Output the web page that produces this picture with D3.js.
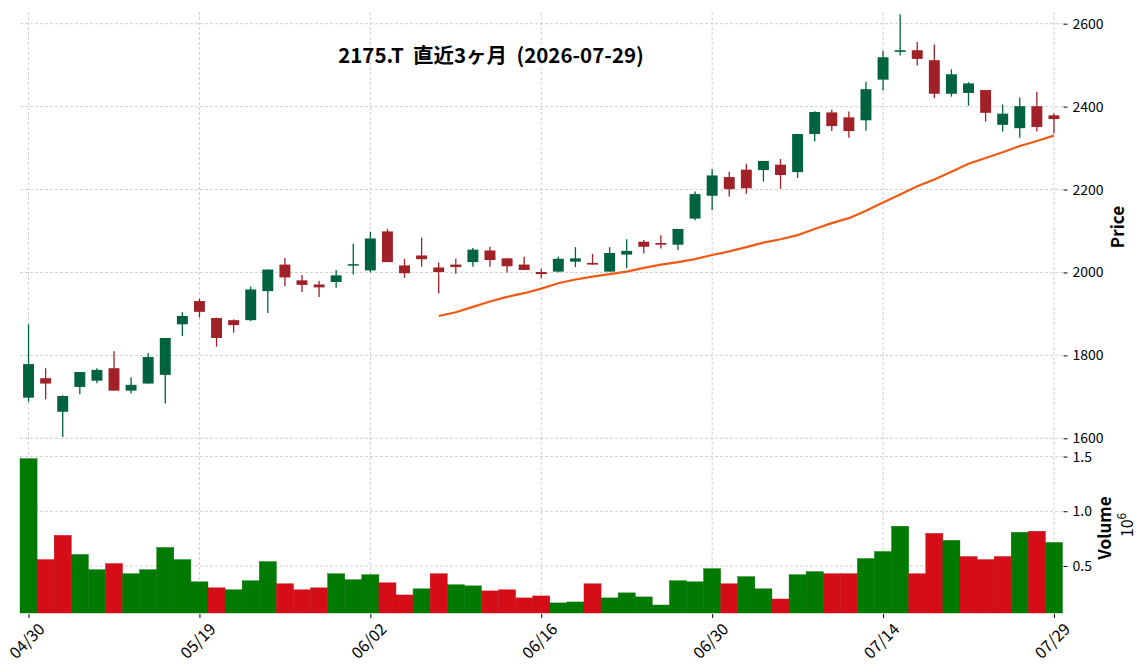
<!DOCTYPE html>
<head>
  <meta charset="utf-8">
  <script src="https://d3js.org/d3.v7.min.js"></script>
  <style>
    body { margin: 0; background: #fff; }
    text { font-family: "Noto Sans CJK JP", "Noto Sans", sans-serif; }
    .grid line { stroke: #c4c4c4; stroke-width: 0.8; stroke-dasharray: 3,2; }
    .axis text { font-size: 14px; fill: #000; }
    .axis line { stroke: #000; }
    .xaxis text { font-size: 16px; }
  </style>
</head>
<body>
<script>
// 2175.T  daily bars, 2026-04-30 .. 2026-07-29
var dates = ["04/30","05/01","05/07","05/08","05/11","05/12","05/13","05/14","05/15","05/18",
  "05/19","05/20","05/21","05/22","05/25","05/26","05/27","05/28","05/29","06/01",
  "06/02","06/03","06/04","06/05","06/08","06/09","06/10","06/11","06/12","06/15",
  "06/16","06/17","06/18","06/19","06/22","06/23","06/24","06/25","06/26","06/29",
  "06/30","07/01","07/02","07/03","07/06","07/07","07/08","07/09","07/10","07/13",
  "07/14","07/15","07/16","07/17","07/21","07/22","07/23","07/24","07/27","07/28",
  "07/29"];
var open = [1698,1745,1664,1724,1739,1769,1715,1732,1753,1875,
  1931,1890,1885,1885,1955,2019,1981,1971,1977,2018,
  2005,2099,2017,2041,2012,2019,2025,2053,2034,2019,
  2001,2002,2026,2023,2002,2043,2074,2071,2067,2130,
  2185,2230,2248,2247,2260,2242,2334,2386,2374,2367,
  2465,2532,2536,2512,2431,2433,2440,2356,2348,2401,
  2379];
var high = [1875,1769,1704,1760,1769,1810,1747,1805,1842,1904,
  1937,1891,1887,1966,2007,2035,1994,1980,2006,2069,
  2098,2105,2033,2084,2024,2033,2059,2062,2034,2038,
  2009,2038,2061,2045,2061,2080,2078,2090,2105,2195,
  2249,2243,2262,2269,2274,2334,2389,2393,2388,2460,
  2535,2623,2556,2550,2490,2459,2440,2405,2422,2436,
  2384];
var low = [1688,1694,1603,1706,1733,1715,1708,1732,1684,1847,
  1892,1821,1855,1883,1902,1967,1953,1941,1963,1995,
  2000,2025,1987,2014,1949,1997,2014,2014,2000,2006,
  1986,2000,2013,2019,2002,2010,2046,2058,2054,2126,
  2150,2183,2190,2219,2202,2228,2316,2341,2325,2342,
  2439,2523,2499,2420,2424,2402,2364,2340,2325,2340,
  2335];
var close = [1779,1732,1702,1760,1765,1715,1729,1796,1842,1895,
  1905,1842,1873,1959,2007,1988,1970,1964,1993,2020,
  2082,2025,1998,2032,2001,2013,2055,2030,2015,2006,
  1996,2033,2034,2019,2047,2052,2062,2067,2105,2189,
  2234,2201,2203,2269,2235,2334,2387,2353,2341,2442,
  2519,2536,2515,2431,2478,2456,2385,2383,2401,2351,
  2370];
var volume = [1481000,558000,780000,605000,466000,522000,429000,466000,669000,558000,
  355000,300000,282000,365000,540000,337000,282000,300000,429000,374000,
  420000,346000,235000,291000,429000,328000,318000,272000,282000,208000,
  226000,162000,171000,337000,208000,254000,217000,143000,365000,355000,
  475000,337000,402000,291000,198000,420000,448000,429000,429000,568000,
  632000,863000,429000,798000,734000,586000,558000,586000,808000,817000,
  715000];
// 25-day moving average, starts at bar 24 (06/08)
var maStart = 24;
var ma25 = [1895,1904,1917,1930,1941,1950,1961,1974,1983,1990,
  1996,2002,2011,2019,2025,2032,2042,2051,2061,2072,
  2080,2090,2105,2119,2131,2149,2169,2188,2208,2224,
  2243,2262,2276,2290,2305,2317,2330];
var priceTicks = [1600,1800,2000,2200,2400,2600];
var volTicks = [0.5e6,1.0e6,1.5e6];
var dateTicks = [0,10,20,30,40,50,60];

var w = 1148, h = 670;
var left = 20, right = 1062.5;
var pTop = 12, pBot = 441;
var vTop = 443, vBot = 613;

var upC = "#006340", downC = "#a02128";
var volUp = "#007a00", volDown = "#d50d18";

var n = dates.length;
var xScale = d3.scaleLinear().domain([-0.5, n - 0.5]).range([left, right]);
var step = xScale(1) - xScale(0);
var yScale = d3.scaleLinear().domain([1593.5, 2628.2]).range([pBot, pTop]);
var vScale = d3.scaleLinear().domain([0.07e6, 1.624e6]).range([vBot, vTop]);

var svg = d3.select("body").append("svg")
  .attr("width", w).attr("height", h);

// grid
var grid = svg.append("g").attr("class", "grid");
grid.selectAll(".gx").data(dateTicks).enter().append("line")
  .attr("x1", function(d) { return xScale(d); })
  .attr("x2", function(d) { return xScale(d); })
  .attr("y1", pTop).attr("y2", vBot);
grid.selectAll(".gp").data(priceTicks).enter().append("line")
  .attr("x1", left).attr("x2", right)
  .attr("y1", function(d) { return yScale(d); })
  .attr("y2", function(d) { return yScale(d); });
grid.selectAll(".gv").data(volTicks).enter().append("line")
  .attr("x1", left).attr("x2", right)
  .attr("y1", function(d) { return vScale(d); })
  .attr("y2", function(d) { return vScale(d); });

// volume bars, coloured by close vs previous close
svg.append("g").selectAll("rect").data(volume).enter().append("rect")
  .attr("x", function(d, i) { return xScale(i) - step / 2; })
  .attr("width", step)
  .attr("y", function(d) { return vScale(d); })
  .attr("height", function(d) { return vBot - vScale(d); })
  .attr("fill", function(d, i) { return (i == 0 || close[i] >= close[i - 1]) ? volUp : volDown; })
  .attr("stroke", function(d, i) { return (i == 0 || close[i] >= close[i - 1]) ? "#006e00" : "#c00c16"; })
  .attr("stroke-width", 0.4);

// candles
var bodyW = step * 0.64;
var candles = svg.append("g").selectAll("g").data(dates).enter().append("g");
candles.append("line")
  .attr("x1", function(d, i) { return xScale(i); })
  .attr("x2", function(d, i) { return xScale(i); })
  .attr("y1", function(d, i) { return yScale(high[i]); })
  .attr("y2", function(d, i) { return yScale(low[i]); })
  .attr("stroke", function(d, i) { return close[i] >= open[i] ? upC : downC; })
  .attr("stroke-width", 1.3);
candles.append("rect")
  .attr("x", function(d, i) { return xScale(i) - bodyW / 2; })
  .attr("width", bodyW)
  .attr("y", function(d, i) { return yScale(Math.max(open[i], close[i])); })
  .attr("height", function(d, i) { return Math.max(1.5, Math.abs(yScale(open[i]) - yScale(close[i]))); })
  .attr("fill", function(d, i) { return close[i] >= open[i] ? upC : downC; });

// moving average
var line = d3.line()
  .x(function(d, i) { return xScale(i + maStart); })
  .y(function(d) { return yScale(d); });
svg.append("path").datum(ma25)
  .attr("d", line)
  .attr("fill", "none")
  .attr("stroke", "#f05a14")
  .attr("stroke-width", 2.2);

// axes
var pAxis = d3.axisRight(yScale).tickValues(priceTicks).tickSize(4).tickPadding(5)
  .tickFormat(d3.format("d"));
svg.append("g").attr("class", "axis")
  .attr("transform", "translate(" + (right + 1) + ",0)")
  .call(pAxis).call(function(g) { g.select(".domain").remove(); });

var vAxis = d3.axisRight(vScale).tickValues(volTicks).tickSize(4).tickPadding(5)
  .tickFormat(function(d) { return d3.format(".1f")(d / 1e6); });
svg.append("g").attr("class", "axis")
  .attr("transform", "translate(" + (right + 1) + ",0)")
  .call(vAxis).call(function(g) { g.select(".domain").remove(); });

var xAxis = d3.axisBottom(xScale).tickValues(dateTicks).tickSize(4)
  .tickFormat(function(d) { return dates[d]; });
var xg = svg.append("g").attr("class", "axis xaxis")
  .attr("transform", "translate(0," + (vBot + 1) + ")")
  .call(xAxis);
xg.select(".domain").remove();
xg.selectAll("text")
  .attr("text-anchor", "middle")
  .attr("dy", null).attr("y", null)
  .attr("transform", "translate(-1,28) rotate(-45)")
  .attr("dominant-baseline", "middle");

// labels
svg.append("text")
  .attr("x", 491).attr("y", 63)
  .attr("text-anchor", "middle")
  .attr("font-size", 20.5).attr("font-weight", "bold")
  .style("white-space", "pre")
  .text("2175.T  直近3ヶ月  (2026-07-29)");

svg.append("text")
  .attr("transform", "translate(1124,227) rotate(-90)")
  .attr("text-anchor", "middle")
  .attr("font-size", 17).attr("font-weight", "bold")
  .text("Price");
svg.append("text")
  .attr("transform", "translate(1111,528) rotate(-90)")
  .attr("text-anchor", "middle")
  .attr("font-size", 17).attr("font-weight", "bold")
  .text("Volume");
var exp = svg.append("text")
  .attr("transform", "translate(1133,525) rotate(-90)")
  .attr("text-anchor", "middle")
  .attr("font-size", 16);
exp.append("tspan").text("10");
exp.append("tspan").attr("dy", -7).attr("font-size", 12).text("6");
</script>
</body>
